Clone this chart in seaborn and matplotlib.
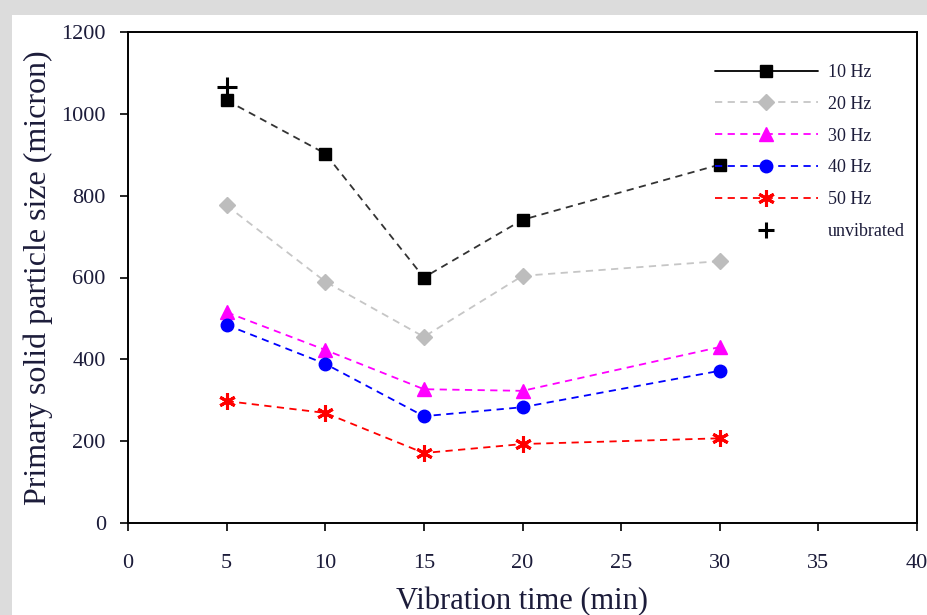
import pandas as pd
import seaborn as sns
import matplotlib.pyplot as plt
from matplotlib.lines import Line2D
from matplotlib.patches import Rectangle

# values
times = [5, 10, 15, 20, 30]
hz10 = [1033, 903, 600, 741, 876]
hz20 = [776, 590, 455, 604, 640]
hz30 = [515, 423, 327, 323, 430]
hz40 = [484, 389, 261, 283, 372]
hz50 = [298, 269, 171, 193, 207]
unvib_time = [5]
unvib_size = [1066]

series = {'10 Hz': hz10, '20 Hz': hz20, '30 Hz': hz30, '40 Hz': hz40, '50 Hz': hz50}
df = pd.concat(
    [pd.DataFrame({'time': times, 'size': v, 'freq': k}) for k, v in series.items()],
    ignore_index=True
)

sns.set_style('white')
plt.rcParams['font.family'] = ['Liberation Serif', 'DejaVu Serif']

line_colors = {'10 Hz': '#333333', '20 Hz': '#c6c6c6', '30 Hz': '#ff00ff',
               '40 Hz': '#0000ff', '50 Hz': '#ff0000'}
marker_colors = {'10 Hz': '#000000', '20 Hz': '#bdbdbd', '30 Hz': '#ff00ff',
                 '40 Hz': '#0000ff', '50 Hz': '#ff0000'}
markers = {'10 Hz': 's', '20 Hz': 'D', '30 Hz': '^', '40 Hz': 'o', '50 Hz': (6, 2, 0)}
msizes = {'10 Hz': 9, '20 Hz': 8, '30 Hz': 10, '40 Hz': 9, '50 Hz': 12}

fig = plt.figure(figsize=(9.27, 6.15), dpi=100, facecolor='#dcdcdc')
fig.patches.append(Rectangle((12 / 927, 0), 1, 1 - 15 / 615, transform=fig.transFigure,
                             facecolor='white', edgecolor='none', zorder=-10))
ax = fig.add_axes([128 / 927, 92 / 615, 789 / 927, 491 / 615])

sns.lineplot(data=df, x='time', y='size', hue='freq', palette=line_colors,
             legend=False, ax=ax, linewidth=1.3)
for ln in ax.get_lines():
    ln.set_dashes([4, 3])

for k, v in series.items():
    ax.plot(times, v, linestyle='none', marker=markers[k], markersize=msizes[k],
            color=marker_colors[k], markeredgewidth=2.2 if k == '50 Hz' else 1,
            zorder=3)
sns.scatterplot(x=unvib_time, y=unvib_size, marker='+', s=220, color='black',
                linewidth=2.2, ax=ax, zorder=4)

ax.set_xlim(0, 40)
ax.set_ylim(0, 1200)
ax.set_xticks(range(0, 41, 5))
ax.set_yticks(range(0, 1201, 200))
ax.tick_params(axis='both', labelsize=16, length=6, width=1.2, direction='out',
               colors='black', labelcolor='#1c1c3a', pad=10,
               bottom=True, left=True, top=False, right=False)
ax.tick_params(axis='x', pad=16)
for s in ax.spines.values():
    s.set_color('black')
    s.set_linewidth(1.4)

ax.set_xlabel('Vibration time (min)', fontsize=22, labelpad=10, color='#1c1c3a')
ax.set_ylabel('Primary solid particle size (micron)', fontsize=23, labelpad=6,
              color='#1c1c3a')

handles = []
for k in series:
    ls = '-' if k == '10 Hz' else (0, (4, 3))
    handles.append(Line2D([0], [0], color=line_colors[k] if k != '10 Hz' else 'black',
                          linestyle=ls, linewidth=1.3, marker=markers[k],
                          markersize=msizes[k], markerfacecolor=marker_colors[k],
                          markeredgecolor=marker_colors[k],
                          markeredgewidth=2.2 if k == '50 Hz' else 1))
handles.append(Line2D([0], [0], linestyle='none', marker='+', markersize=12,
                      color='black', markeredgewidth=2.2))
labels = list(series) + ['unvibrated']
leg = ax.legend(handles, labels, loc='upper left',
                bbox_to_anchor=(715 / 927, 1 - 64 / 615), bbox_transform=fig.transFigure,
                frameon=False, fontsize=13, handlelength=5.7, handletextpad=0.55,
                labelspacing=0.82, borderpad=0, borderaxespad=0, markerscale=1,
                numpoints=1)
for t in leg.get_texts():
    t.set_color('#1c1c3a')

fig.savefig('out.png', dpi=100, facecolor=fig.get_facecolor())
